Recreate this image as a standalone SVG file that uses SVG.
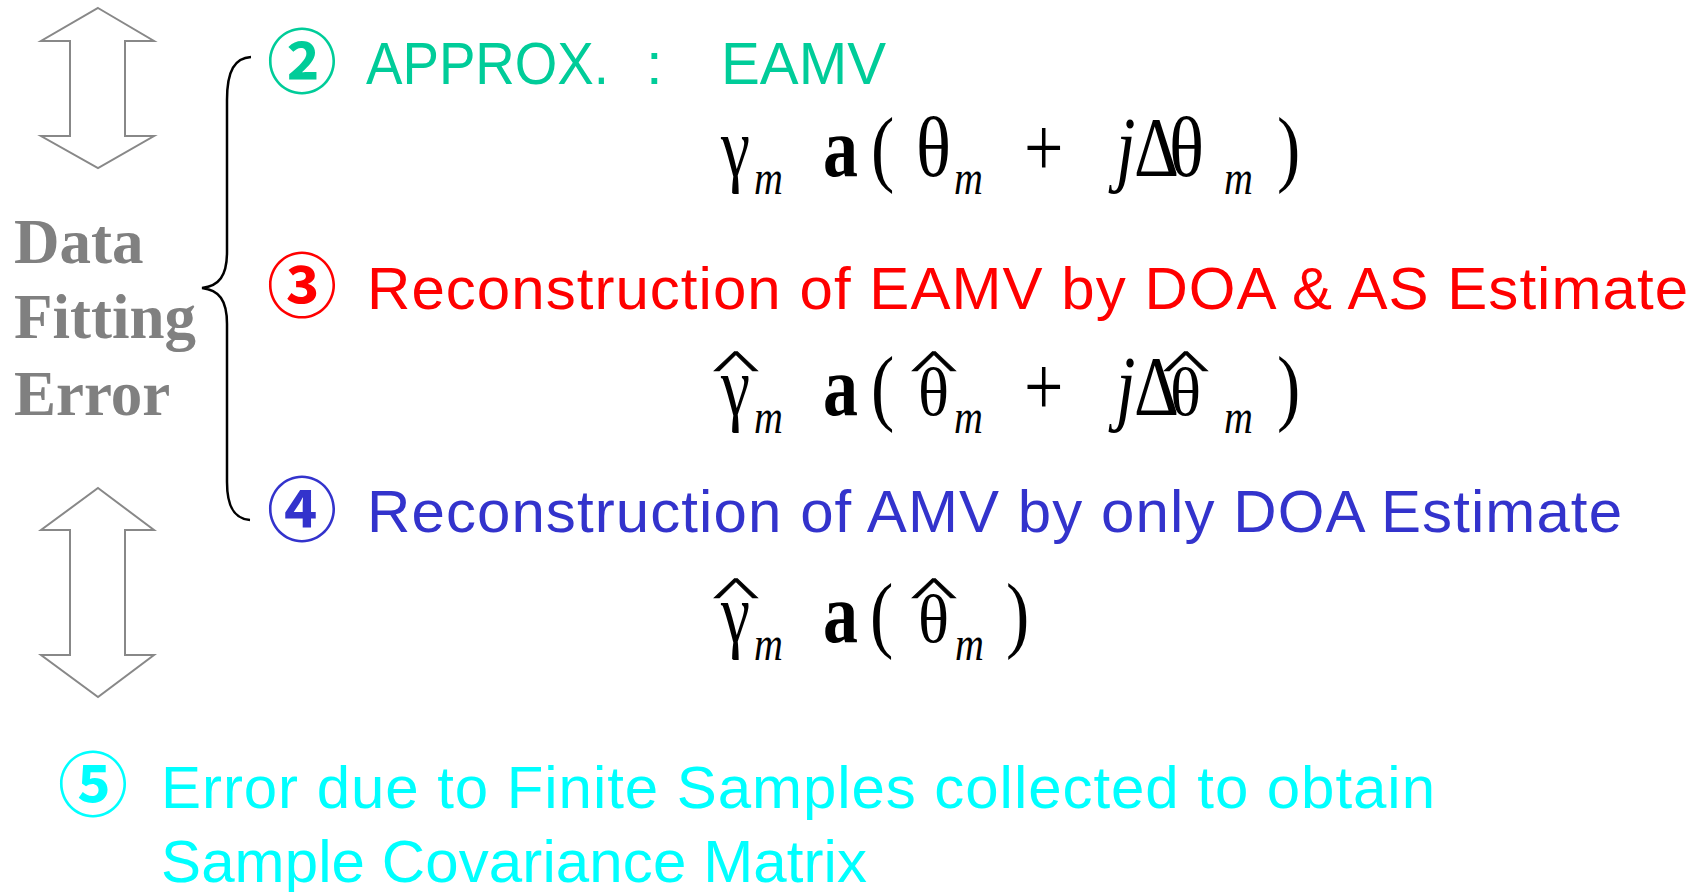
<svg xmlns="http://www.w3.org/2000/svg" width="1705" height="892" viewBox="0 0 1705 892">
<style>
.arrow{fill:none;stroke:#888;stroke-width:2;stroke-linejoin:miter}
.brace{fill:none;stroke:#000;stroke-width:2.5}
.lbl{font-family:"Liberation Sans","Noto Sans CJK JP",sans-serif;font-size:60px}
.num{font-family:"Noto Sans CJK JP",sans-serif;font-size:70px;font-weight:bold;text-anchor:middle}
.eq{font-family:"Liberation Serif",serif;font-size:70px;fill:#000}
.b{font-weight:bold}
.i{font-style:italic}
.sth{font-size:56px}
.sub{font-family:"Liberation Serif",serif;font-size:40px;font-style:italic;fill:#000}
.hat{font-family:"Liberation Serif",serif;font-size:58px;text-anchor:middle;fill:#000;stroke:#000;stroke-width:0.8}
.side{font-family:"Liberation Serif",serif;font-weight:bold;font-size:63px;fill:#808080}
.green{fill:#00CC99}.red{fill:#FF0000}.blue{fill:#3333CC}.cyan{fill:#00FFFF}
</style>
<rect width="1705" height="892" fill="#fff"/>
<g id="arrow-top"><path class="arrow" d="M98,8 L154,41 L125,41 L125,136 L154,136 L98,168 L41,136 L70,136 L70,41 L41,41 Z"/></g>
<g id="arrow-bottom"><path class="arrow" d="M98,488 L154,530 L125,530 L125,655 L154,655 L98,697 L41,655 L70,655 L70,530 L41,530 Z"/></g>
<g id="connectors"><path class="brace" d="M251,57 C235,58 227,70 227,100 L227,252 C227,276 219,286 202,288 C219,290 227,300 227,324 L227,482 C227,508 235,519 250,520"/></g>
<g id="data-fitting-error">
<text class="side" x="14" y="263">Data</text>
<text class="side" x="14" y="338">Fitting</text>
<text class="side" x="14" y="415">Error</text>
</g>
<g id="item2">
<text class="num green" x="302" y="88">②</text>
<text class="lbl green" x="366" y="84" textLength="243" lengthAdjust="spacingAndGlyphs">APPROX.</text>
<text class="lbl green" x="646" y="84">:</text>
<text class="lbl green" x="721" y="84" textLength="165" lengthAdjust="spacingAndGlyphs">EAMV</text>
</g>
<g id="eq1" transform="translate(0,176) scale(1,1.2)">
<text class="eq" x="721" y="0" textLength="29" lengthAdjust="spacingAndGlyphs">γ</text>
<text class="sub" x="754" y="15">m</text>
<text class="eq b" x="823" y="0">a</text>
<text class="eq" x="871" y="0">(</text>
<text class="eq" x="916" y="0" textLength="35" lengthAdjust="spacingAndGlyphs">θ</text>
<text class="sub" x="954" y="15">m</text>
<text class="eq" x="1024" y="0">+</text>
<text class="eq i" x="1116" y="0">j</text>
<text class="eq" x="1134" y="0">Δ</text>
<text class="eq" x="1169" y="0" textLength="35" lengthAdjust="spacingAndGlyphs">θ</text>
<text class="sub" x="1224" y="15">m</text>
<text class="eq" x="1277" y="0">)</text>
</g>
<g id="item3">
<text class="num red" x="302" y="312">③</text>
<text class="lbl red" x="367" y="309" textLength="1321">Reconstruction of EAMV by DOA &amp; AS Estimate</text>
</g>
<g id="eq2" transform="translate(0,415) scale(1,1.2)">
<text class="hat" transform="translate(736,-30) scale(1.7,0.6)">^</text>
<text class="eq" x="721" y="0" textLength="29" lengthAdjust="spacingAndGlyphs">γ</text>
<text class="sub" x="754" y="15">m</text>
<text class="eq b" x="823" y="0">a</text>
<text class="eq" x="871" y="0">(</text>
<text class="hat" transform="translate(934,-30) scale(1.7,0.6)">^</text>
<text class="eq sth" x="918" y="0" textLength="31" lengthAdjust="spacingAndGlyphs">θ</text>
<text class="sub" x="954" y="15">m</text>
<text class="eq" x="1024" y="0">+</text>
<text class="eq i" x="1116" y="0">j</text>
<text class="eq" x="1134" y="0">Δ</text>
<text class="hat" transform="translate(1186,-30) scale(1.7,0.6)">^</text>
<text class="eq sth" x="1170" y="0" textLength="31" lengthAdjust="spacingAndGlyphs">θ</text>
<text class="sub" x="1224" y="15">m</text>
<text class="eq" x="1277" y="0">)</text>
</g>
<g id="item4">
<text class="num blue" x="302" y="536">④</text>
<text class="lbl blue" x="367" y="532" textLength="1255">Reconstruction of AMV by only DOA Estimate</text>
</g>
<g id="eq3" transform="translate(0,642) scale(1,1.2)">
<text class="hat" transform="translate(736,-30) scale(1.7,0.6)">^</text>
<text class="eq" x="721" y="0" textLength="29" lengthAdjust="spacingAndGlyphs">γ</text>
<text class="sub" x="754" y="15">m</text>
<text class="eq b" x="823" y="0">a</text>
<text class="eq" x="870" y="0">(</text>
<text class="hat" transform="translate(934,-30) scale(1.7,0.6)">^</text>
<text class="eq sth" x="918" y="0" textLength="31" lengthAdjust="spacingAndGlyphs">θ</text>
<text class="sub" x="955" y="15">m</text>
<text class="eq" x="1006" y="0">)</text>
</g>
<g id="item5">
<text class="num cyan" x="93" y="811">⑤</text>
<text class="lbl cyan" x="161" y="808" textLength="1274">Error due to Finite Samples collected to obtain</text>
<text class="lbl cyan" x="161" y="882" textLength="706">Sample Covariance Matrix</text>
</g>
</svg>
